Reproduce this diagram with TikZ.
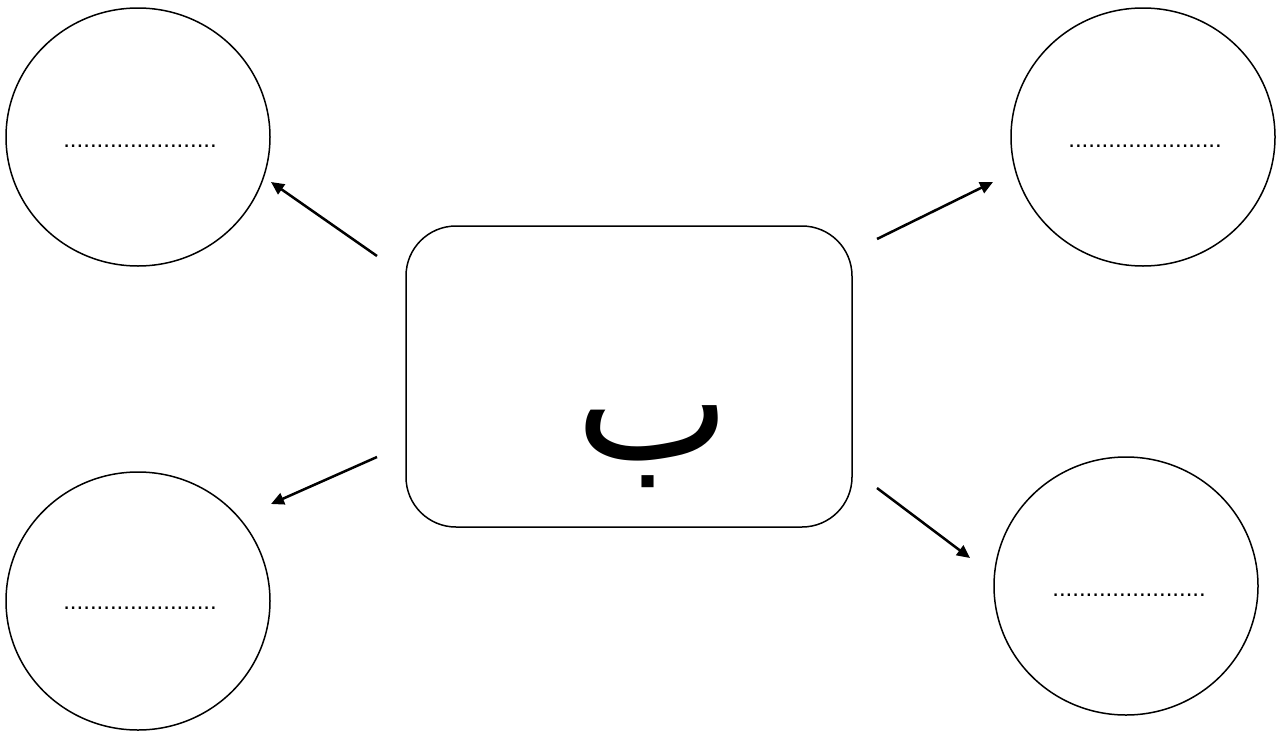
\documentclass[tikz,border=0pt]{standalone}
\usepackage{fontspec}
\setmainfont{Liberation Sans}
\newfontfamily\arabicfont[Script=Arabic]{DejaVu Sans}
\TeXXeTstate=1
\tikzset{
  bubble/.style={draw, line width=1.5pt},
  conn/.style={-{Triangle[length=13pt,width=12pt]}, line width=2.5pt},
  dots/.style={font=\fontsize{24}{26}\selectfont, inner sep=0pt}
}
\usetikzlibrary{arrows.meta}
\begin{document}
\begin{tikzpicture}[x=1pt,y=-1pt]
\useasboundingbox (0,0) rectangle (1282,731);
% circles
\draw[bubble] (138,137) ellipse [x radius=132, y radius=129];
\draw[bubble] (138,601) ellipse [x radius=132, y radius=129];
\draw[bubble] (1143,137) ellipse [x radius=132, y radius=129];
\draw[bubble] (1126,586) ellipse [x radius=132, y radius=129];
\node[dots] (tl) at (140,146) {.......................};
\node[dots] (bl) at (140,608) {.......................};
\node[dots] (tr) at (1145,146) {.......................};
\node[dots] (br) at (1129,595) {.......................};
% center box
\node[draw, line width=1.5pt, rounded corners=50pt, minimum width=446pt, minimum height=301pt, inner sep=0pt] (c) at (629,376.5) {};
\node[inner sep=0pt, font=\arabicfont\fontsize{165}{175}\selectfont] (letter) at (653,447) {\beginR ب\endR};
% arrow endpoints
\coordinate (a1s) at (377,256); \coordinate (a1e) at (271,182);
\coordinate (a2s) at (377,457); \coordinate (a2e) at (271,504);
\coordinate (a3s) at (877,239); \coordinate (a3e) at (993,182);
\coordinate (a4s) at (877,488); \coordinate (a4e) at (970,558);
\draw[conn] (a1s) -- (a1e);
\draw[conn] (a2s) -- (a2e);
\draw[conn] (a3s) -- (a3e);
\draw[conn] (a4s) -- (a4e);
\end{tikzpicture}
\end{document}
